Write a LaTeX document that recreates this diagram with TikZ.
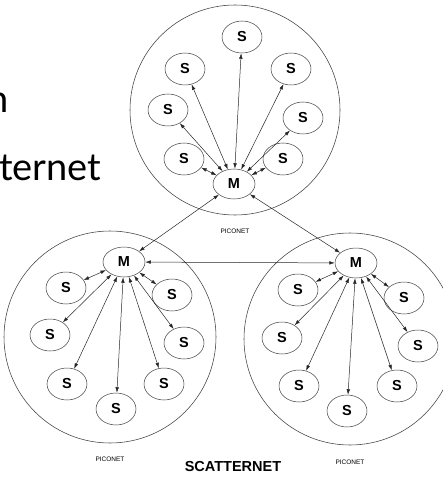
\documentclass[tikz,border=0pt]{standalone}
\usepackage{fontspec}
\setmainfont{Liberation Sans}
\newfontfamily\slidefont{Lato}
\usetikzlibrary{shapes.geometric, arrows.meta, positioning}
\tikzstyle{piconet} = [circle, draw=black!75, line width=0.55pt, inner sep=0pt]
\tikzstyle{slave} = [ellipse, minimum width=40pt, minimum height=32pt, inner sep=0pt, draw=black!75, line width=0.5pt, font=\fontsize{14.5}{14.5}\selectfont\bfseries]
\tikzstyle{master} = [slave, minimum width=42pt, minimum height=30pt]
\tikzstyle{arrow} = [line width=0.5pt, draw=black!85, <->, >={Latex[length=5.5pt,width=3.6pt]}]
\tikzstyle{caption} = [font=\fontsize{6.5}{6.5}\selectfont, inner sep=0pt]
\tikzstyle{slidetext} = [inner sep=0pt, font=\slidefont\fontsize{38}{38}\selectfont]

\begin{document}
\begin{tikzpicture}[x=1pt, y=-1pt]
    \useasboundingbox (0,0) rectangle (443,478);
    \clip (0,0) rectangle (443,478);
    % slide text left of the figure
    \node (word1) [slidetext, anchor=base east] at (9,113) {n};
    \node (word2) [slidetext, anchor=base west] at (-1,180) {ternet};

    % the three piconets
    \node (pica) [piconet, minimum size=210pt] at (235,110) {};
    \node (picb) [piconet, minimum size=212pt] at (110,337) {};
    \node (picc) [piconet, minimum size=212pt] at (350,339) {};
    \node (capa) [caption, below=13pt of pica] {PICONET};
    \node (capb) [caption, below=13pt of picb] {PICONET};
    \node (capc) [caption, below=14pt of picc] {PICONET};
    \node (title) [font=\fontsize{14.5}{14.5}\selectfont\bfseries] at (233,467) {SCATTERNET};

    % top piconet
    \node (ma) [master] at (234,184) {M};
    \node (sa1) [slave] at (185,69) {S};
    \node (sa2) [slave] at (242,37) {S};
    \node (sa3) [slave] at (291,69) {S};
    \node (sa4) [slave] at (168,110) {S};
    \node (sa5) [slave] at (303,118) {S};
    \node (sa6) [slave] at (184,159) {S};
    \node (sa7) [slave] at (283,159) {S};

    % bottom left piconet
    \node (mb) [master] at (124,262) {M};
    \node (sb1) [slave] at (66,288) {S};
    \node (sb2) [slave] at (172,295) {S};
    \node (sb3) [slave] at (50,335) {S};
    \node (sb4) [slave] at (184,343) {S};
    \node (sb5) [slave] at (67,384) {S};
    \node (sb6) [slave] at (164,384) {S};
    \node (sb7) [slave] at (116,409) {S};

    % bottom right piconet
    \node (mc) [master] at (356,263) {M};
    \node (sc1) [slave] at (298,290) {S};
    \node (sc2) [slave] at (404,298) {S};
    \node (sc3) [slave] at (282,338) {S};
    \node (sc4) [slave] at (418,346) {S};
    \node (sc5) [slave] at (299,386) {S};
    \node (sc6) [slave] at (397,386) {S};
    \node (sc7) [slave] at (347,411) {S};

    \draw[arrow] (ma)--(sa1); \draw[arrow] (ma)--(sa2); \draw[arrow] (ma)--(sa3);
    \draw[arrow] (ma)--(sa4); \draw[arrow] (ma)--(sa5); \draw[arrow] (ma)--(sa6);
    \draw[arrow] (ma)--(sa7);
    \draw[arrow] (mb)--(sb1); \draw[arrow] (mb)--(sb2); \draw[arrow] (mb)--(sb3);
    \draw[arrow] (mb)--(sb4); \draw[arrow] (mb)--(sb5); \draw[arrow] (mb)--(sb6);
    \draw[arrow] (mb)--(sb7);
    \draw[arrow] (mc)--(sc1); \draw[arrow] (mc)--(sc2); \draw[arrow] (mc)--(sc3);
    \draw[arrow] (mc)--(sc4); \draw[arrow] (mc)--(sc5); \draw[arrow] (mc)--(sc6);
    \draw[arrow] (mc)--(sc7);
    % links between the masters
    \draw[arrow] (ma)--(mb);
    \draw[arrow] (ma)--(mc);
    \draw[arrow] (mb)--(mc);
\end{tikzpicture}
\end{document}
